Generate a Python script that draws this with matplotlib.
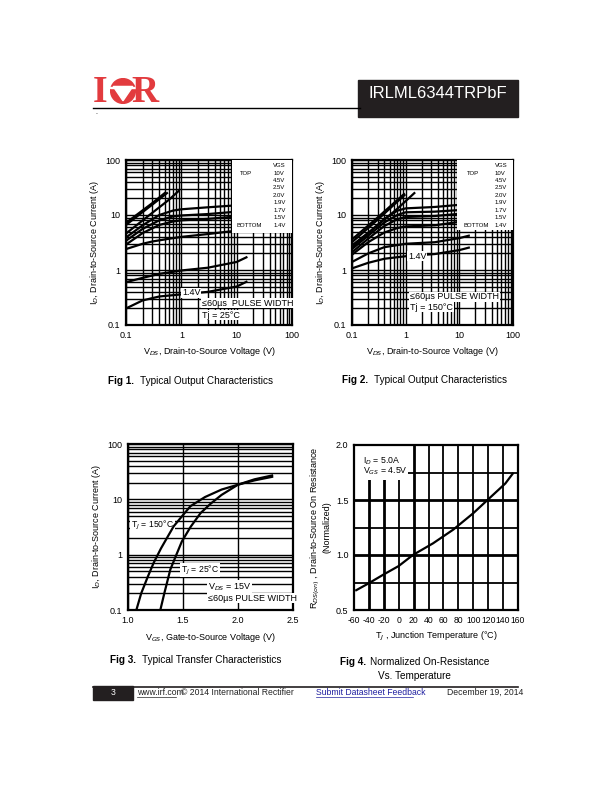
import matplotlib
matplotlib.use("Agg")
import matplotlib.pyplot as plt
from matplotlib.patches import Rectangle, Circle, Polygon
import numpy as np

plt.rcParams['font.family'] = ['Liberation Sans', 'DejaVu Sans']
plt.rcParams['axes.unicode_minus'] = False

# ---- data ----
# Fig 1: output characteristics at Tj = 25C  (VDS, ID)
f1_vgs = ['10V', '4.5V', '2.5V', '2.0V', '1.9V', '1.7V', '1.5V', '1.4V']
f1_curves = [
    ([0.1, 0.3, 0.5], [7.2, 16.5, 25]),
    ([0.1, 0.3, 0.55], [6.6, 15.5, 25]),
    ([0.1, 0.3, 0.6, 0.9], [4.6, 11, 19, 27.5]),
    ([0.1, 0.2, 0.4, 0.7, 1, 3, 10, 15], [3.9, 6.5, 10, 12, 12.7, 13.8, 15, 15.6]),
    ([0.1, 0.2, 0.4, 0.7, 1, 3, 10, 15], [3.4, 5.6, 8, 9.4, 9.8, 10.4, 11.5, 12]),
    ([0.1, 0.2, 0.4, 0.7, 1, 3, 10, 15], [2.9, 4.7, 6.6, 7.6, 8, 8.5, 9.4, 9.8]),
    ([0.1, 0.2, 0.3, 0.6, 1, 3, 10, 15], [2.4, 3.0, 3.3, 3.7, 4.0, 4.5, 5.2, 5.4]),
    ([0.1, 0.2, 0.4, 1, 3, 10, 15], [0.6, 0.72, 0.85, 0.98, 1.1, 1.4, 1.7]),
    ([0.1, 0.2, 0.4, 1, 3, 10, 15], [0.2, 0.28, 0.33, 0.36, 0.4, 0.5, 0.61]),
]
# Fig 2: output characteristics at Tj = 150C
f2_curves = [
    ([0.1, 0.3, 0.93], [3.6, 9, 24]),
    ([0.1, 0.3, 0.95], [3.2, 8.2, 23]),
    ([0.1, 0.3, 0.7, 1.45], [2.8, 6.5, 13, 25]),
    ([0.1, 0.2, 0.4, 0.7, 1, 3.5, 10, 15], [2.6, 4.6, 8.5, 12, 13.2, 14, 15.3, 15.8]),
    ([0.1, 0.2, 0.4, 0.7, 1, 3.5, 10, 15], [2.4, 4.2, 7.3, 10, 11.2, 11.5, 12.3, 12.7]),
    ([0.1, 0.2, 0.4, 0.7, 1, 3.5, 10, 15], [2.1, 3.7, 6.3, 8.4, 9.2, 9.6, 10.5, 11]),
    ([0.1, 0.2, 0.4, 0.7, 1, 3.5, 10, 15], [1.9, 3.2, 4.8, 5.8, 6.2, 6.5, 7.5, 7.9]),
    ([0.1, 0.2, 0.4, 1, 3.5, 10, 15], [1.4, 2.0, 2.6, 3.0, 3.2, 3.8, 4.2]),
    ([0.1, 0.2, 0.4, 1, 3.5, 10, 15], [1.07, 1.35, 1.6, 1.78, 1.95, 2.3, 2.55]),
]
# Fig 3: transfer characteristics (VGS, ID)
f3_vgs_150 = [1.076, 1.12, 1.18, 1.233, 1.30, 1.36, 1.415, 1.50, 1.567, 1.70, 1.85, 2.0, 2.15, 2.31]
f3_id_150 = [0.1, 0.2, 0.4, 0.71, 1.3, 2.1, 3.25, 5.2, 7.5, 11, 15, 18.4, 22, 25.5]
f3_vgs_25 = [1.294, 1.33, 1.385, 1.44, 1.49, 1.57, 1.66, 1.75, 1.85, 2.0, 2.15, 2.31]
f3_id_25 = [0.1, 0.2, 0.54, 1.0, 1.74, 3.2, 5.65, 8.3, 12, 18.4, 23, 27]
# Fig 4: normalized RDS(on) vs TJ
f4_tj = [-57, -41, -21, 0, 19, 46, 73, 100, 120, 143, 153]
f4_rds = [0.68, 0.74, 0.82, 0.9, 1.0, 1.106, 1.23, 1.38, 1.506, 1.65, 1.74]

W, H = 612, 792
fig = plt.figure(figsize=(W / 100, H / 100), dpi=100)


def fx(x):
    return x / W


def fy(y):
    return 1 - y / H


def make_axes(x0, y0, x1, y1):
    ax = fig.add_axes([fx(x0), fy(y1), fx(x1 - x0), (y1 - y0) / H])
    for s in ax.spines.values():
        s.set_linewidth(1.6)
    ax.tick_params(which='both', length=0, labelsize=6.5, pad=4)
    return ax


def log_axes(ax):
    ax.set_xscale('log')
    ax.set_yscale('log')
    ax.set_xlim(0.1, 100)
    ax.set_ylim(0.1, 100)
    ax.set_xticks([0.1, 1, 10, 100])
    ax.set_xticklabels(['0.1', '1', '10', '100'])
    ax.set_yticks([0.1, 1, 10, 100])
    ax.set_yticklabels(['0.1', '1', '10', '100'])
    ax.grid(True, which='both', color='black', lw=1.0)
    ax.set_axisbelow(True)


def legend_box(ax, x0, y0, tx_top, tx_val):
    ax.add_patch(Rectangle((x0, y0), 1 - x0, 1 - y0, transform=ax.transAxes,
                           facecolor='white', edgecolor='none', zorder=4))
    kw = dict(transform=ax.transAxes, fontsize=4.3, zorder=5, va='center')
    ax.text(tx_val, 0.965, 'VGS', **kw)
    ax.text(tx_top, 0.921, 'TOP', **kw)
    ax.text(tx_top - 0.02, 0.921 - 7 * 0.045, 'BOTTOM', **kw)
    for i, v in enumerate(f1_vgs):
        ax.text(tx_val, 0.921 - i * 0.045, v, **kw)


box = dict(facecolor='white', edgecolor='none', pad=0.6)

# ---- Fig 1 ----
ax1 = make_axes(126, 160, 292, 325)
log_axes(ax1)
for xs, ys in f1_curves:
    ax1.plot(xs, ys, color='black', lw=1.6, zorder=3)
legend_box(ax1, 0.64, 0.56, 0.687, 0.886)
ax1.text(0.337, 0.194, '1.4V', transform=ax1.transAxes, fontsize=6.5, va='center', bbox=box, zorder=5)
ax1.text(0.458, 0.133, '\u226460\u00b5s  PULSE WIDTH', transform=ax1.transAxes, fontsize=6.5,
         va='center', bbox=box, zorder=5)
ax1.text(0.458, 0.06, 'Tj = 25\u00b0C', transform=ax1.transAxes, fontsize=6.5, va='center',
         bbox=box, zorder=5)
ax1.set_xlabel('V$_{DS}$, Drain-to-Source Voltage (V)', fontsize=6.5, labelpad=4)
ax1.set_ylabel('I$_D$, Drain-to-Source Current (A)', fontsize=6.5, labelpad=3)

# ---- Fig 2 ----
ax2 = make_axes(352, 160, 513, 325)
log_axes(ax2)
for xs, ys in f2_curves:
    ax2.plot(xs, ys, color='black', lw=1.6, zorder=3)
legend_box(ax2, 0.652, 0.576, 0.714, 0.888)
ax2.text(0.348, 0.418, '1.4V', transform=ax2.transAxes, fontsize=6.5, va='center', bbox=box, zorder=5)
ax2.text(0.36, 0.17, '\u226460\u00b5s PULSE WIDTH', transform=ax2.transAxes, fontsize=6.5,
         va='center', bbox=box, zorder=5)
ax2.text(0.36, 0.109, 'Tj = 150\u00b0C', transform=ax2.transAxes, fontsize=6.5, va='center',
         bbox=box, zorder=5)
ax2.set_xlabel('V$_{DS}$, Drain-to-Source Voltage (V)', fontsize=6.5, labelpad=4)
ax2.set_ylabel('I$_D$, Drain-to-Source Current (A)', fontsize=6.5, labelpad=3)

# ---- Fig 3 ----
ax3 = make_axes(128, 444, 293, 610)
ax3.set_yscale('log')
ax3.set_xlim(1.0, 2.5)
ax3.set_ylim(0.1, 100)
ax3.set_xticks([1.0, 1.5, 2.0, 2.5])
ax3.set_xticklabels(['1.0', '1.5', '2.0', '2.5'])
ax3.set_yticks([0.1, 1, 10, 100])
ax3.set_yticklabels(['0.1', '1', '10', '100'])
ax3.grid(True, which='both', axis='y', color='black', lw=1.0)
ax3.grid(True, which='major', axis='x', color='black', lw=1.0)
ax3.set_axisbelow(True)
ax3.plot(f3_vgs_150, f3_id_150, color='black', lw=1.6, zorder=6)
ax3.plot(f3_vgs_25, f3_id_25, color='black', lw=1.6, zorder=6)
ax3.text(0.02, 0.512, 'T$_J$ = 150\u00b0C', transform=ax3.transAxes, fontsize=6.2, va='center',
         bbox=box, zorder=5)
ax3.text(0.32, 0.241, 'T$_J$ = 25\u00b0C', transform=ax3.transAxes, fontsize=6.2, va='center',
         bbox=box, zorder=5)
ax3.text(0.485, 0.139, 'V$_{DS}$ = 15V', transform=ax3.transAxes, fontsize=6.5, va='center',
         bbox=box, zorder=5)
ax3.text(0.485, 0.072, '\u226460\u00b5s PULSE WIDTH', transform=ax3.transAxes, fontsize=6.5,
         va='center', bbox=box, zorder=5)
ax3.set_xlabel('V$_{GS}$, Gate-to-Source Voltage (V)', fontsize=6.5, labelpad=5)
ax3.set_ylabel('I$_D$, Drain-to-Source Current (A)', fontsize=6.5, labelpad=3)

# ---- Fig 4 ----
ax4 = make_axes(354, 445, 518, 610)
ax4.set_xlim(-60, 160)
ax4.set_ylim(0.5, 2.0)
ax4.set_xticks(np.arange(-60, 161, 20))
ax4.tick_params(axis='x', labelsize=6.2)
ax4.set_yticks([0.5, 1.0, 1.5, 2.0])
ax4.set_yticklabels(['0.5', '1.0', '1.5', '2.0'])
for t in range(-40, 160, 20):
    ax4.axvline(t, color='black', lw=2.0 if t in (-40, -20, 20) else 1.3, zorder=1)
for r in [0.75, 1.0, 1.25, 1.5, 1.75]:
    ax4.axhline(r, color='black', lw=2.0 if r in (1.0, 1.5) else 1.3, zorder=1)
ax4.add_patch(Rectangle((0, 0.79), 0.33, 0.21, transform=ax4.transAxes,
                        facecolor='white', edgecolor='none', zorder=2))
ax4.plot(f4_tj, f4_rds, color='black', lw=1.6, zorder=3)
ax4.text(0.055, 0.905, 'I$_D$ = 5.0A', transform=ax4.transAxes, fontsize=6.3, va='center', zorder=5)
ax4.text(0.055, 0.84, 'V$_{GS}$ = 4.5V', transform=ax4.transAxes, fontsize=6.3, va='center', zorder=5)
ax4.set_xlabel('T$_J$ , Junction Temperature (\u00b0C)', fontsize=6.5, labelpad=4)
ax4.set_ylabel('R$_{DS(on)}$ , Drain-to-Source On Resistance\n(Normalized)', fontsize=6.5,
               labelpad=3, linespacing=1.1)

# ---- page header ----
red = '#e23b3e'
fig.text(fx(100), fy(92), 'I', color=red, fontsize=27, fontweight='bold', family='Liberation Serif',
         ha='center', va='center')
circ_ax = fig.add_axes([fx(110), fy(104), fx(26), 26 / H])
circ_ax.set_xlim(-1, 1)
circ_ax.set_ylim(-1, 1)
circ_ax.set_aspect('equal')
circ_ax.axis('off')
circ_ax.add_patch(Circle((0, 0), 0.95, color=red))
circ_ax.add_patch(Polygon([[-0.75, 0.35], [0.75, 0.35], [0, -0.75]], color='white'))
circ_ax.add_patch(Rectangle((-1, 0.22), 2, 0.12, color='white'))
fig.text(fx(145), fy(92), 'R', color=red, fontsize=27, fontweight='bold', family='Liberation Serif',
         ha='center', va='center')
fig.add_artist(plt.Line2D([fx(93), fx(360)], [fy(107.5), fy(107.5)], color='black', lw=1.0))
fig.add_artist(Rectangle((fx(358), fy(117)), fx(160), 37 / H, color='#231f20'))
fig.text(fx(438), fy(94), 'IRLML6344TRPbF', color='white', fontsize=12, ha='center', va='center')
fig.text(fx(96), fy(112), '.', fontsize=5, ha='center', va='center')

# ---- captions ----
fig.text(fx(108), fy(381), 'Fig 1.', fontsize=7.2, fontweight='bold', va='center')
fig.text(fx(140), fy(381), 'Typical Output Characteristics', fontsize=7.2, va='center')
fig.text(fx(342), fy(380), 'Fig 2.', fontsize=7.2, fontweight='bold', va='center')
fig.text(fx(374), fy(380), 'Typical Output Characteristics', fontsize=7.2, va='center')
fig.text(fx(110), fy(660), 'Fig 3.', fontsize=7.2, fontweight='bold', va='center')
fig.text(fx(142), fy(660), 'Typical Transfer Characteristics', fontsize=7.2, va='center')
fig.text(fx(340), fy(662), 'Fig 4.', fontsize=7.2, fontweight='bold', va='center')
fig.text(fx(370), fy(662), 'Normalized On-Resistance', fontsize=7.2, va='center')
fig.text(fx(378), fy(676), 'Vs. Temperature', fontsize=7.2, va='center')

# ---- footer ----
fig.add_artist(plt.Line2D([fx(93), fx(518)], [fy(686.5), fy(686.5)], color='#231f20', lw=1.2))
fig.add_artist(Rectangle((fx(93), fy(700)), fx(40), 14 / H, color='#231f20'))
fig.text(fx(113), fy(692.5), '3', color='white', fontsize=6.2, ha='center', va='center')
fig.text(fx(137), fy(692.5), 'www.irf.com', fontsize=6.2, va='center', color='#222222')
fig.add_artist(plt.Line2D([fx(137), fx(176)], [fy(697), fy(697)], color='#222222', lw=0.5))
fig.text(fx(181), fy(692.5), '\u00a9 2014 International Rectifier', fontsize=6.2, va='center',
         color='#222222')
fig.text(fx(316), fy(692.5), 'Submit Datasheet Feedback', fontsize=6.2, va='center', color='#1f1fa0')
fig.add_artist(plt.Line2D([fx(316), fx(413)], [fy(697), fy(697)], color='#1f1fa0', lw=0.5))
fig.text(fx(447), fy(692.5), 'December 19, 2014', fontsize=6.2, va='center', color='#222222')

fig.savefig('out.png', dpi=100)
